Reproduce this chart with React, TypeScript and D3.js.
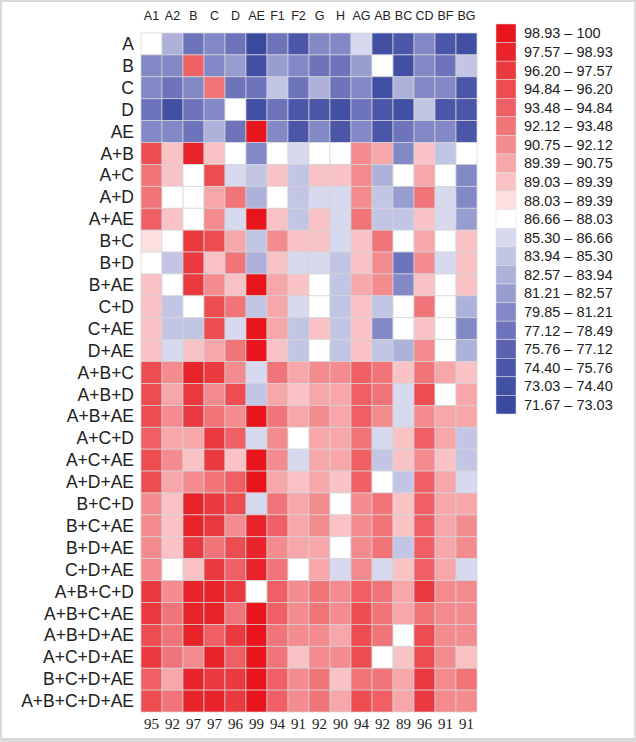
import React from "react";
import * as d3 from "d3";

const columns = ["A1","A2","B","C","D","AE","F1","F2","G","H","AG","AB","BC","CD","BF","BG"];
const rows = ["A","B","C","D","AE","A+B","A+C","A+D","A+AE","B+C","B+D","B+AE","C+D","C+AE","D+AE","A+B+C","A+B+D","A+B+AE","A+C+D","A+C+AE","A+D+AE","B+C+D","B+C+AE","B+D+AE","C+D+AE","A+B+C+D","A+B+C+AE","A+B+D+AE","A+C+D+AE","B+C+D+AE","A+B+C+D+AE"];
const bottomLabels = ["95","92","97","97","96","99","94","91","92","90","94","92","89","96","91","91"];

const values: number[][] = [
  [87.3, 83.3, 77.8, 80.5, 77.8, 73.0, 77.8, 75.1, 80.0, 79.5, 85.8, 74.0, 75.0, 79.5, 75.5, 73.5],
  [81.0, 79.0, 94.0, 81.0, 81.5, 73.5, 81.5, 81.0, 77.5, 78.0, 81.5, 87.5, 73.5, 81.0, 78.0, 84.0],
  [81.0, 78.0, 79.5, 92.5, 78.0, 77.5, 84.5, 78.0, 83.0, 78.0, 81.0, 74.0, 83.0, 81.0, 80.5, 75.5],
  [77.5, 73.5, 78.0, 79.5, 87.5, 74.0, 77.5, 75.0, 75.5, 73.5, 77.5, 75.5, 73.5, 84.5, 75.0, 75.0],
  [79.5, 79.0, 77.5, 83.0, 77.5, 99.6, 81.0, 75.0, 79.5, 74.5, 79.5, 75.0, 77.5, 79.5, 79.0, 74.5],
  [95.5, 89.2, 98.2, 89.2, 87.3, 79.0, 87.3, 85.8, 87.3, 87.3, 91.4, 90.2, 81.0, 89.2, 84.5, 87.3],
  [93.0, 89.2, 87.3, 95.5, 85.8, 84.5, 89.2, 84.5, 89.2, 89.2, 91.4, 83.0, 87.3, 90.2, 87.3, 79.0],
  [92.8, 87.3, 87.3, 90.2, 93.0, 83.0, 87.3, 84.5, 85.8, 85.8, 91.4, 84.5, 81.5, 93.0, 85.8, 81.0],
  [94.2, 89.2, 87.3, 91.0, 85.8, 99.6, 89.2, 84.5, 89.2, 85.8, 93.0, 84.5, 84.5, 89.2, 85.8, 81.5],
  [88.7, 87.3, 97.0, 95.5, 90.2, 84.5, 91.0, 89.2, 89.2, 85.8, 89.2, 93.0, 87.3, 90.2, 87.3, 89.2],
  [87.3, 84.5, 97.0, 89.2, 93.0, 83.0, 89.2, 85.8, 85.8, 84.5, 89.2, 91.4, 77.5, 91.4, 85.8, 89.2],
  [89.2, 87.3, 97.0, 91.4, 89.2, 99.6, 90.2, 89.2, 87.3, 84.5, 90.2, 91.4, 81.0, 89.2, 87.3, 89.2],
  [89.2, 84.5, 87.3, 95.5, 93.0, 84.5, 90.2, 85.8, 87.3, 84.5, 89.2, 84.5, 87.3, 93.0, 87.3, 83.0],
  [89.2, 84.5, 84.5, 95.5, 85.8, 99.6, 90.2, 84.5, 89.2, 84.5, 89.2, 79.5, 87.3, 89.2, 87.3, 80.5],
  [89.2, 85.8, 89.2, 90.2, 93.0, 99.2, 89.2, 84.5, 87.3, 84.5, 89.2, 84.5, 83.0, 91.4, 87.3, 83.0],
  [95.5, 91.4, 98.2, 96.9, 91.4, 85.8, 93.0, 90.2, 91.4, 91.4, 94.2, 93.0, 89.2, 93.0, 90.2, 89.2],
  [95.5, 90.2, 96.9, 91.4, 95.5, 84.5, 90.2, 89.2, 90.2, 90.2, 94.2, 93.0, 85.8, 95.5, 87.3, 90.2],
  [95.5, 91.4, 96.9, 93.0, 91.4, 99.6, 93.0, 90.2, 91.4, 90.2, 94.2, 91.4, 85.8, 91.4, 90.2, 90.2],
  [94.2, 90.2, 90.2, 96.9, 94.2, 85.8, 91.4, 87.3, 90.2, 90.2, 93.0, 85.8, 89.2, 94.2, 90.2, 84.5],
  [95.5, 91.4, 89.2, 96.9, 89.2, 99.6, 91.4, 85.8, 90.2, 90.2, 94.2, 84.5, 89.2, 91.4, 89.2, 84.5],
  [95.5, 90.2, 91.4, 93.0, 94.2, 99.6, 90.2, 89.2, 90.2, 89.2, 94.2, 87.3, 84.5, 94.2, 90.2, 85.8],
  [91.4, 89.2, 98.2, 96.9, 95.5, 85.8, 93.0, 90.2, 91.4, 87.3, 91.4, 93.0, 89.2, 94.2, 90.2, 90.2],
  [91.4, 89.2, 98.2, 96.9, 91.4, 98.2, 94.2, 90.2, 91.4, 89.2, 91.4, 93.0, 89.2, 94.2, 90.2, 91.4],
  [91.4, 89.2, 96.9, 93.0, 95.5, 98.2, 91.4, 90.2, 90.2, 87.3, 91.4, 93.0, 84.5, 94.2, 90.2, 91.4],
  [91.4, 87.3, 89.2, 96.9, 94.2, 98.2, 93.0, 87.3, 90.2, 85.8, 91.4, 85.8, 89.2, 94.2, 90.2, 85.8],
  [96.9, 91.4, 98.2, 98.2, 96.9, 87.3, 94.2, 91.4, 93.0, 91.4, 94.2, 93.0, 90.2, 96.9, 91.4, 91.4],
  [96.9, 93.0, 98.2, 98.2, 93.0, 99.6, 94.2, 91.4, 93.0, 91.4, 95.5, 93.0, 90.2, 93.0, 91.4, 91.4],
  [95.5, 93.0, 98.2, 94.2, 96.9, 99.6, 93.0, 91.4, 91.4, 90.2, 95.5, 93.0, 87.3, 95.5, 91.4, 91.4],
  [96.9, 93.0, 91.4, 98.2, 94.2, 99.6, 93.0, 89.2, 91.4, 91.4, 95.5, 87.3, 89.2, 95.5, 91.4, 89.2],
  [94.2, 90.2, 98.2, 96.9, 96.9, 99.6, 94.2, 91.4, 93.0, 89.2, 93.0, 93.0, 90.2, 96.9, 91.4, 93.0],
  [95.5, 93.0, 98.2, 98.2, 96.9, 99.6, 94.2, 91.4, 93.0, 90.2, 95.5, 94.2, 90.2, 96.9, 91.4, 91.4],
];

// legend classes (top to bottom)
const legendLabels = ["98.93 – 100","97.57 – 98.93","96.20 – 97.57","94.84 – 96.20","93.48 – 94.84","92.12 – 93.48","90.75 – 92.12","89.39 – 90.75","89.03 – 89.39","88.03 – 89.39","86.66 – 88.03","85.30 – 86.66","83.94 – 85.30","82.57 – 83.94","81.21 – 82.57","79.85 – 81.21","77.12 – 78.49","75.76 – 77.12","74.40 – 75.76","73.03 – 74.40","71.67 – 73.03"];
const thresholds = [73.03, 74.40, 75.76, 77.12, 78.49, 81.21, 82.57, 83.94, 85.30, 86.66, 88.03, 89.03, 89.39, 90.75, 92.12, 93.48, 94.84, 96.20, 97.57, 98.93];
const legendColors = ["#e8151d","#e9232a","#eb3a3f","#ed4d51","#ef5f63","#f17479","#f48b8f","#f7a6aa","#f9c3c6","#fcdfe1","#ffffff","#d7d9ee","#c2c5e4","#aeb2da","#989dd0","#8389c6","#6e74bb","#5b62b1","#4c56a9","#4250a3","#3a4a9f"];

const W = 636, H = 742;
const gridLeft = 141, gridRight = 477, gridTop = 33, gridBottom = 712;

export default function App() {
  const x = d3.scaleBand<string>().domain(columns).range([gridLeft, gridRight]);
  const y = d3.scaleBand<string>().domain(rows).range([gridTop, gridBottom]);
  const color = d3.scaleThreshold<number, string>()
    .domain(thresholds)
    .range(legendColors.slice().reverse());
  const ly = d3.scaleBand<string>().domain(legendLabels).range([24, 414]);
  const sans = "Arial, 'Liberation Sans', sans-serif";
  const serif = "'Times New Roman', 'Liberation Serif', serif";
  return (
    <svg width={W} height={H} style={{ position: "absolute", left: 0, top: 0 }}>
      <rect x={0} y={0} width={W} height={H} fill="#d9d9d9" />
      <rect x={2} y={2} width={W - 4} height={H - 6} fill="#ffffff" />
      {columns.map((c) => (
        <text key={c} x={x(c)! + x.bandwidth() / 2} y={20} textAnchor="middle" fontFamily={sans} fontSize={12.5} fill="#222">{c}</text>
      ))}
      {rows.map((r) => (
        <text key={r} x={134} y={y(r)! + y.bandwidth() / 2} dy="0.35em" textAnchor="end" fontFamily={sans} fontSize={17.5} fill="#222">{r}</text>
      ))}
      {values.map((row, i) =>
        row.map((v, j) => (
          <rect key={i + "-" + j} x={x(columns[j])} y={y(rows[i])} width={x.bandwidth()} height={y.bandwidth()}
            fill={color(v)} stroke="#d4d4d8" strokeWidth={0.7} />
        ))
      )}
      {bottomLabels.map((b, j) => (
        <text key={j} x={x(columns[j])! + x.bandwidth() / 2} y={729} textAnchor="middle" fontFamily={serif} fontSize={15} fill="#222">{b}</text>
      ))}
      {legendLabels.map((l, k) => (
        <g key={l}>
          <rect x={496} y={ly(l)} width={20} height={ly.bandwidth()} fill={legendColors[k]} stroke="#e0e0e0" strokeWidth={0.5} />
          <text x={524} y={ly(l)! + ly.bandwidth() / 2} dy="0.35em" fontFamily={sans} fontSize={14.5} fill="#222">{l}</text>
        </g>
      ))}
    </svg>
  );
}
